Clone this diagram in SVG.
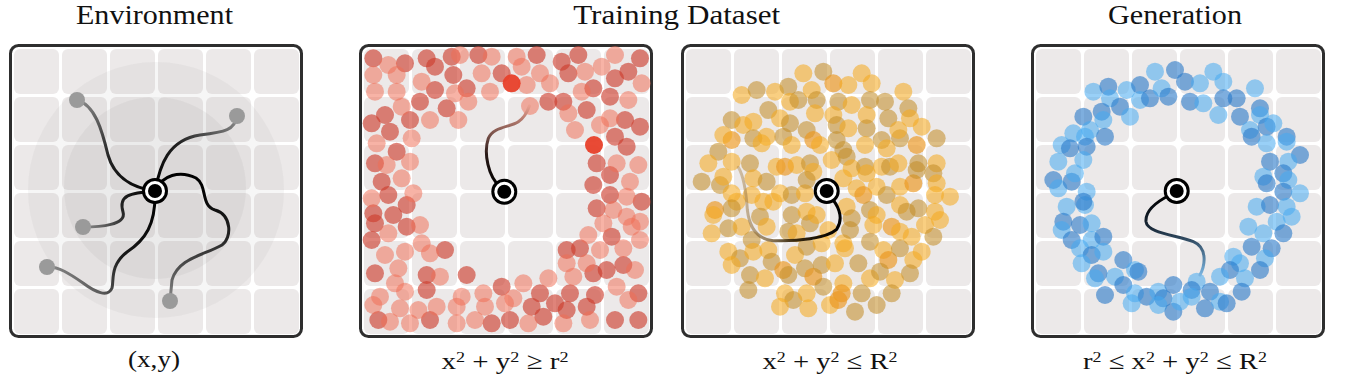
<svg xmlns="http://www.w3.org/2000/svg" xmlns:xlink="http://www.w3.org/1999/xlink" width="1354" height="382" viewBox="0 0 1354 382">
<style>
.title{font-family:"Liberation Serif","Times New Roman",serif;font-size:27px;fill:#111}
.lbl{font-family:"Liberation Serif","Times New Roman",serif;font-size:24px;fill:#111}
.sup{font-size:15px}
.frame{fill:#fff;stroke:#2e2e2e;stroke-width:3}
.cell{fill:#ece9e9}
.r1{fill:#cd3c2d;fill-opacity:.63}
.r2{fill:#f06e55;fill-opacity:.52}
.r3{fill:#e8402a;fill-opacity:.95}
.y1{fill:#f5aa1e;fill-opacity:.56}
.y2{fill:#c38c28;fill-opacity:.56}
.y3{fill:#ec961e;fill-opacity:.66}
.b1{fill:#46aaf0;fill-opacity:.55}
.b2{fill:#2878c8;fill-opacity:.6}
.tr{fill:none;stroke-width:3;stroke-linecap:round}
.trz{fill:none;stroke-width:9;stroke-linecap:round}
.end{fill:#9a9a9a}
</style>
<defs>
<g id="grid">
<rect class="cell" x="5" y="5" width="45" height="45" rx="6"/><rect class="cell" x="53" y="5" width="45" height="45" rx="6"/><rect class="cell" x="101" y="5" width="45" height="45" rx="6"/><rect class="cell" x="149" y="5" width="45" height="45" rx="6"/><rect class="cell" x="197" y="5" width="45" height="45" rx="6"/><rect class="cell" x="245" y="5" width="45" height="45" rx="6"/>
<rect class="cell" x="5" y="53" width="45" height="45" rx="6"/><rect class="cell" x="53" y="53" width="45" height="45" rx="6"/><rect class="cell" x="101" y="53" width="45" height="45" rx="6"/><rect class="cell" x="149" y="53" width="45" height="45" rx="6"/><rect class="cell" x="197" y="53" width="45" height="45" rx="6"/><rect class="cell" x="245" y="53" width="45" height="45" rx="6"/>
<rect class="cell" x="5" y="101" width="45" height="45" rx="6"/><rect class="cell" x="53" y="101" width="45" height="45" rx="6"/><rect class="cell" x="101" y="101" width="45" height="45" rx="6"/><rect class="cell" x="149" y="101" width="45" height="45" rx="6"/><rect class="cell" x="197" y="101" width="45" height="45" rx="6"/><rect class="cell" x="245" y="101" width="45" height="45" rx="6"/>
<rect class="cell" x="5" y="149" width="45" height="45" rx="6"/><rect class="cell" x="53" y="149" width="45" height="45" rx="6"/><rect class="cell" x="101" y="149" width="45" height="45" rx="6"/><rect class="cell" x="149" y="149" width="45" height="45" rx="6"/><rect class="cell" x="197" y="149" width="45" height="45" rx="6"/><rect class="cell" x="245" y="149" width="45" height="45" rx="6"/>
<rect class="cell" x="5" y="197" width="45" height="45" rx="6"/><rect class="cell" x="53" y="197" width="45" height="45" rx="6"/><rect class="cell" x="101" y="197" width="45" height="45" rx="6"/><rect class="cell" x="149" y="197" width="45" height="45" rx="6"/><rect class="cell" x="197" y="197" width="45" height="45" rx="6"/><rect class="cell" x="245" y="197" width="45" height="45" rx="6"/>
<rect class="cell" x="5" y="245" width="45" height="45" rx="6"/><rect class="cell" x="53" y="245" width="45" height="45" rx="6"/><rect class="cell" x="101" y="245" width="45" height="45" rx="6"/><rect class="cell" x="149" y="245" width="45" height="45" rx="6"/><rect class="cell" x="197" y="245" width="45" height="45" rx="6"/><rect class="cell" x="245" y="245" width="45" height="45" rx="6"/>
</g>
<g id="board"><rect class="frame" x="1.5" y="1.5" width="291" height="291" rx="8"/><use xlink:href="#grid"/></g>
<g id="node"><circle r="13" fill="#000"/><circle r="10" fill="#fff"/><circle r="7" fill="#000"/></g>
<linearGradient id="e1" gradientUnits="userSpaceOnUse" x1="155" y1="191" x2="77" y2="100"><stop offset="0" stop-color="#000"/><stop offset=".45" stop-color="#222"/><stop offset="1" stop-color="#8c8c8c"/></linearGradient>
<linearGradient id="e2" gradientUnits="userSpaceOnUse" x1="155" y1="191" x2="237" y2="116"><stop offset="0" stop-color="#000"/><stop offset=".45" stop-color="#222"/><stop offset="1" stop-color="#8c8c8c"/></linearGradient>
<linearGradient id="e3" gradientUnits="userSpaceOnUse" x1="155" y1="191" x2="83" y2="227"><stop offset="0" stop-color="#000"/><stop offset=".45" stop-color="#222"/><stop offset="1" stop-color="#8c8c8c"/></linearGradient>
<linearGradient id="e4" gradientUnits="userSpaceOnUse" x1="155" y1="191" x2="47" y2="267"><stop offset="0" stop-color="#000"/><stop offset=".5" stop-color="#1a1a1a"/><stop offset="1" stop-color="#8c8c8c"/></linearGradient>
<linearGradient id="e5" gradientUnits="userSpaceOnUse" x1="155" y1="191" x2="170" y2="301"><stop offset="0" stop-color="#000"/><stop offset=".5" stop-color="#222"/><stop offset="1" stop-color="#8c8c8c"/></linearGradient>
<linearGradient id="gr" gradientUnits="userSpaceOnUse" x1="0" y1="470" x2="0" y2="228"><stop offset="0" stop-color="#000"/><stop offset=".4" stop-color="#2a1a18"/><stop offset="1" stop-color="#eaa090"/></linearGradient>
<linearGradient id="gy" gradientUnits="userSpaceOnUse" x1="505" y1="0" x2="205" y2="0"><stop offset="0" stop-color="#000"/><stop offset=".45" stop-color="#3a2a10"/><stop offset="1" stop-color="#b08a50" stop-opacity=".45"/></linearGradient>
<linearGradient id="gb" gradientUnits="userSpaceOnUse" x1="0" y1="500" x2="0" y2="735"><stop offset="0" stop-color="#000"/><stop offset=".4" stop-color="#1a2a3a"/><stop offset="1" stop-color="#7ab4e0"/></linearGradient>
</defs>

<text class="title" x="154.5" y="24" text-anchor="middle" textLength="157" lengthAdjust="spacingAndGlyphs">Environment</text>
<text class="title" x="676.7" y="24" text-anchor="middle" textLength="207" lengthAdjust="spacingAndGlyphs">Training Dataset</text>
<text class="title" x="1175" y="24" text-anchor="middle" textLength="134" lengthAdjust="spacingAndGlyphs">Generation</text>

<g id="panel-environment">
<use xlink:href="#board" transform="translate(9,44)"/>
<circle cx="156" cy="190" r="128" fill="#888" fill-opacity=".08"/>
<circle cx="155" cy="188" r="91" fill="#888" fill-opacity=".09"/>
<g id="env-connectors">
<path class="tr" stroke="url(#e1)" d="M155,191 C135,188 115,180 108,155 C102,130 95,105 77,100"/>
<path class="tr" stroke="url(#e2)" d="M155,191 C160,165 168,140 200,135 C225,132 235,130 237,116"/>
<path class="tr" stroke="url(#e3)" d="M155,191 C130,193 118,195 123,212 C127,225 100,227 83,227"/>
<path class="tr" stroke="url(#e4)" d="M155,191 C156,225 145,240 127,252 C110,265 114,280 112,288 C108,298 95,292 83,283 C70,274 58,266 47,267"/>
<path class="tr" stroke="url(#e5)" d="M155,191 C162,175 180,170 196,178 C208,186 200,205 215,210 C232,215 232,238 222,245 C205,255 178,258 172,280 L170,301"/>
</g>
<circle class="end" cx="77" cy="100" r="8"/>
<circle class="end" cx="237" cy="116" r="8"/>
<circle class="end" cx="83" cy="227" r="8"/>
<circle class="end" cx="47" cy="267" r="8"/>
<circle class="end" cx="170" cy="301" r="8"/>
<use xlink:href="#node" transform="translate(155,191)"/>
</g>

<g id="panel-train-outer">
<use xlink:href="#board" transform="translate(359,44)"/>
<g transform="translate(340,30) scale(0.333333)">
<circle class="r1" cx="100" cy="85" r="27"/><circle class="r1" cx="195" cy="100" r="27"/><circle class="r1" cx="260" cy="85" r="27"/><circle class="r1" cx="285" cy="110" r="27"/><circle class="r1" cx="285" cy="180" r="27"/><circle class="r1" cx="335" cy="80" r="27"/><circle class="r1" cx="340" cy="135" r="27"/><circle class="r1" cx="380" cy="175" r="27"/><circle class="r1" cx="415" cy="75" r="27"/><circle class="r1" cx="485" cy="130" r="27"/><circle class="r1" cx="590" cy="75" r="27"/><circle class="r1" cx="665" cy="95" r="27"/><circle class="r1" cx="715" cy="75" r="27"/><circle class="r1" cx="685" cy="130" r="27"/><circle class="r1" cx="760" cy="175" r="27"/><circle class="r1" cx="865" cy="125" r="27"/><circle class="r1" cx="900" cy="85" r="27"/><circle class="r1" cx="825" cy="145" r="27"/><circle class="r1" cx="810" cy="200" r="27"/><circle class="r1" cx="95" cy="280" r="27"/><circle class="r1" cx="135" cy="255" r="27"/><circle class="r1" cx="210" cy="270" r="27"/><circle class="r1" cx="240" cy="215" r="27"/><circle class="r1" cx="320" cy="235" r="27"/><circle class="r1" cx="625" cy="215" r="27"/><circle class="r1" cx="670" cy="215" r="27"/><circle class="r1" cx="740" cy="240" r="27"/><circle class="r1" cx="855" cy="270" r="27"/><circle class="r1" cx="900" cy="290" r="27"/><circle class="r1" cx="825" cy="320" r="27"/><circle class="r1" cx="860" cy="350" r="27"/><circle class="r1" cx="150" cy="305" r="27"/><circle class="r1" cx="170" cy="365" r="27"/><circle class="r1" cx="105" cy="400" r="27"/><circle class="r1" cx="125" cy="455" r="27"/><circle class="r1" cx="145" cy="495" r="27"/><circle class="r1" cx="200" cy="525" r="27"/><circle class="r1" cx="100" cy="550" r="27"/><circle class="r1" cx="105" cy="580" r="27"/><circle class="r1" cx="160" cy="555" r="27"/><circle class="r1" cx="200" cy="590" r="27"/><circle class="r1" cx="95" cy="630" r="27"/><circle class="r1" cx="315" cy="660" r="27"/><circle class="r1" cx="105" cy="730" r="27"/><circle class="r1" cx="260" cy="735" r="27"/><circle class="r1" cx="380" cy="735" r="27"/><circle class="r1" cx="770" cy="400" r="27"/><circle class="r1" cx="760" cy="465" r="27"/><circle class="r1" cx="810" cy="435" r="27"/><circle class="r1" cx="810" cy="495" r="27"/><circle class="r1" cx="905" cy="515" r="27"/><circle class="r1" cx="770" cy="535" r="27"/><circle class="r1" cx="815" cy="620" r="27"/><circle class="r1" cx="720" cy="655" r="27"/><circle class="r1" cx="680" cy="660" r="27"/><circle class="r1" cx="760" cy="730" r="27"/><circle class="r1" cx="800" cy="720" r="27"/><circle class="r1" cx="850" cy="705" r="27"/><circle class="r1" cx="485" cy="770" r="27"/><circle class="r1" cx="260" cy="780" r="27"/><circle class="r1" cx="575" cy="830" r="27"/><circle class="r1" cx="600" cy="790" r="27"/><circle class="r1" cx="645" cy="820" r="27"/><circle class="r1" cx="690" cy="790" r="27"/><circle class="r1" cx="680" cy="840" r="27"/><circle class="r1" cx="740" cy="830" r="27"/><circle class="r1" cx="765" cy="795" r="27"/><circle class="r1" cx="895" cy="790" r="27"/><circle class="r1" cx="115" cy="870" r="27"/><circle class="r1" cx="270" cy="870" r="27"/><circle class="r1" cx="455" cy="880" r="27"/><circle class="r1" cx="510" cy="870" r="27"/><circle class="r1" cx="610" cy="860" r="27"/><circle class="r1" cx="825" cy="870" r="27"/><circle class="r1" cx="895" cy="870" r="27"/>
<circle class="r2" cx="145" cy="105" r="27"/><circle class="r2" cx="100" cy="135" r="27"/><circle class="r2" cx="170" cy="135" r="27"/><circle class="r2" cx="105" cy="185" r="27"/><circle class="r2" cx="170" cy="185" r="27"/><circle class="r2" cx="245" cy="155" r="27"/><circle class="r2" cx="360" cy="75" r="27"/><circle class="r2" cx="345" cy="190" r="27"/><circle class="r2" cx="455" cy="80" r="27"/><circle class="r2" cx="425" cy="130" r="27"/><circle class="r2" cx="450" cy="185" r="27"/><circle class="r2" cx="530" cy="80" r="27"/><circle class="r2" cx="545" cy="110" r="27"/><circle class="r2" cx="600" cy="130" r="27"/><circle class="r2" cx="560" cy="165" r="27"/><circle class="r2" cx="630" cy="160" r="27"/><circle class="r2" cx="735" cy="125" r="27"/><circle class="r2" cx="725" cy="185" r="27"/><circle class="r2" cx="785" cy="110" r="27"/><circle class="r2" cx="825" cy="75" r="27"/><circle class="r2" cx="905" cy="160" r="27"/><circle class="r2" cx="865" cy="210" r="27"/><circle class="r2" cx="185" cy="230" r="27"/><circle class="r2" cx="270" cy="270" r="27"/><circle class="r2" cx="355" cy="270" r="27"/><circle class="r2" cx="385" cy="215" r="27"/><circle class="r2" cx="570" cy="228" r="27"/><circle class="r2" cx="685" cy="250" r="27"/><circle class="r2" cx="705" cy="300" r="27"/><circle class="r2" cx="780" cy="285" r="27"/><circle class="r2" cx="810" cy="265" r="27"/><circle class="r2" cx="110" cy="340" r="27"/><circle class="r2" cx="215" cy="325" r="27"/><circle class="r2" cx="140" cy="405" r="27"/><circle class="r2" cx="210" cy="395" r="27"/><circle class="r2" cx="185" cy="445" r="27"/><circle class="r2" cx="95" cy="505" r="27"/><circle class="r2" cx="220" cy="490" r="27"/><circle class="r2" cx="240" cy="585" r="27"/><circle class="r2" cx="145" cy="610" r="27"/><circle class="r2" cx="135" cy="675" r="27"/><circle class="r2" cx="195" cy="665" r="27"/><circle class="r2" cx="245" cy="640" r="27"/><circle class="r2" cx="270" cy="670" r="27"/><circle class="r2" cx="175" cy="715" r="27"/><circle class="r2" cx="165" cy="760" r="27"/><circle class="r2" cx="300" cy="740" r="27"/><circle class="r2" cx="830" cy="400" r="27"/><circle class="r2" cx="895" cy="405" r="27"/><circle class="r2" cx="870" cy="455" r="27"/><circle class="r2" cx="860" cy="500" r="27"/><circle class="r2" cx="820" cy="540" r="27"/><circle class="r2" cx="900" cy="575" r="27"/><circle class="r2" cx="860" cy="560" r="27"/><circle class="r2" cx="790" cy="580" r="27"/><circle class="r2" cx="745" cy="615" r="27"/><circle class="r2" cx="875" cy="590" r="27"/><circle class="r2" cx="900" cy="630" r="27"/><circle class="r2" cx="850" cy="655" r="27"/><circle class="r2" cx="780" cy="660" r="27"/><circle class="r2" cx="680" cy="700" r="27"/><circle class="r2" cx="740" cy="700" r="27"/><circle class="r2" cx="885" cy="720" r="27"/><circle class="r2" cx="700" cy="740" r="27"/><circle class="r2" cx="550" cy="760" r="27"/><circle class="r2" cx="625" cy="745" r="27"/><circle class="r2" cx="100" cy="825" r="27"/><circle class="r2" cx="120" cy="800" r="27"/><circle class="r2" cx="195" cy="785" r="27"/><circle class="r2" cx="180" cy="835" r="27"/><circle class="r2" cx="235" cy="840" r="27"/><circle class="r2" cx="290" cy="830" r="27"/><circle class="r2" cx="365" cy="800" r="27"/><circle class="r2" cx="350" cy="830" r="27"/><circle class="r2" cx="430" cy="790" r="27"/><circle class="r2" cx="435" cy="830" r="27"/><circle class="r2" cx="520" cy="805" r="27"/><circle class="r2" cx="495" cy="820" r="27"/><circle class="r2" cx="830" cy="770" r="27"/><circle class="r2" cx="865" cy="810" r="27"/><circle class="r2" cx="150" cy="875" r="27"/><circle class="r2" cx="210" cy="880" r="27"/><circle class="r2" cx="350" cy="880" r="27"/><circle class="r2" cx="405" cy="870" r="27"/><circle class="r2" cx="565" cy="880" r="27"/><circle class="r2" cx="670" cy="880" r="27"/><circle class="r2" cx="750" cy="870" r="27"/>
<circle class="r3" cx="515" cy="160" r="27"/><circle class="r3" cx="762" cy="345" r="27"/>
<path class="trz" stroke="url(#gr)" d="M480,470 C445,440 430,370 445,325 C460,290 510,292 535,275 C555,262 562,245 568,228"/>
</g>
<use xlink:href="#node" transform="translate(504.3,191.7)"/>
</g>

<g id="panel-train-inner">
<use xlink:href="#board" transform="translate(681,44)"/>
<g transform="translate(670,30) scale(0.333333)">
<circle class="y1" cx="400" cy="130" r="27"/><circle class="y2" cx="460" cy="125" r="27"/><circle class="y3" cx="490" cy="160" r="27"/><circle class="y1" cx="535" cy="165" r="27"/><circle class="y1" cx="575" cy="130" r="27"/><circle class="y1" cx="605" cy="160" r="27"/><circle class="y1" cx="700" cy="185" r="27"/><circle class="y1" cx="215" cy="195" r="27"/><circle class="y2" cx="260" cy="180" r="27"/><circle class="y1" cx="315" cy="185" r="27"/><circle class="y2" cx="355" cy="170" r="27"/><circle class="y1" cx="360" cy="215" r="27"/><circle class="y2" cx="385" cy="210" r="27"/><circle class="y1" cx="425" cy="180" r="27"/><circle class="y2" cx="440" cy="210" r="27"/><circle class="y2" cx="505" cy="215" r="27"/><circle class="y1" cx="545" cy="225" r="27"/><circle class="y2" cx="600" cy="210" r="27"/><circle class="y2" cx="645" cy="215" r="27"/><circle class="y2" cx="295" cy="240" r="27"/><circle class="y1" cx="330" cy="265" r="27"/><circle class="y2" cx="360" cy="280" r="27"/><circle class="y1" cx="435" cy="250" r="27"/><circle class="y1" cx="490" cy="255" r="27"/><circle class="y2" cx="500" cy="285" r="27"/><circle class="y1" cx="535" cy="295" r="27"/><circle class="y1" cx="590" cy="255" r="27"/><circle class="y2" cx="590" cy="295" r="27"/><circle class="y2" cx="655" cy="265" r="27"/><circle class="y2" cx="715" cy="235" r="27"/><circle class="y1" cx="720" cy="265" r="27"/><circle class="y1" cx="755" cy="290" r="27"/><circle class="y2" cx="185" cy="270" r="27"/><circle class="y1" cx="220" cy="285" r="27"/><circle class="y1" cx="250" cy="275" r="27"/><circle class="y3" cx="185" cy="330" r="27"/><circle class="y1" cx="160" cy="315" r="27"/><circle class="y2" cx="250" cy="325" r="27"/><circle class="y1" cx="275" cy="340" r="27"/><circle class="y1" cx="290" cy="320" r="27"/><circle class="y2" cx="340" cy="320" r="27"/><circle class="y1" cx="365" cy="345" r="27"/><circle class="y2" cx="410" cy="300" r="27"/><circle class="y3" cx="430" cy="330" r="27"/><circle class="y1" cx="450" cy="345" r="27"/><circle class="y2" cx="500" cy="330" r="27"/><circle class="y2" cx="520" cy="360" r="27"/><circle class="y1" cx="585" cy="345" r="27"/><circle class="y2" cx="635" cy="330" r="27"/><circle class="y1" cx="650" cy="355" r="27"/><circle class="y2" cx="690" cy="325" r="27"/><circle class="y1" cx="685" cy="300" r="27"/><circle class="y3" cx="740" cy="345" r="27"/><circle class="y2" cx="800" cy="325" r="27"/><circle class="y2" cx="145" cy="365" r="27"/><circle class="y1" cx="115" cy="400" r="27"/><circle class="y1" cx="185" cy="395" r="27"/><circle class="y2" cx="240" cy="400" r="27"/><circle class="y1" cx="320" cy="410" r="27"/><circle class="y3" cx="345" cy="410" r="27"/><circle class="y1" cx="380" cy="405" r="27"/><circle class="y2" cx="420" cy="400" r="27"/><circle class="y1" cx="430" cy="425" r="27"/><circle class="y1" cx="485" cy="390" r="27"/><circle class="y2" cx="530" cy="380" r="27"/><circle class="y1" cx="545" cy="415" r="27"/><circle class="y2" cx="585" cy="410" r="27"/><circle class="y1" cx="590" cy="430" r="27"/><circle class="y1" cx="635" cy="410" r="27"/><circle class="y2" cx="660" cy="410" r="27"/><circle class="y1" cx="685" cy="400" r="27"/><circle class="y2" cx="745" cy="400" r="27"/><circle class="y1" cx="800" cy="400" r="27"/><circle class="y2" cx="95" cy="455" r="27"/><circle class="y2" cx="150" cy="465" r="27"/><circle class="y1" cx="160" cy="440" r="27"/><circle class="y1" cx="250" cy="445" r="27"/><circle class="y2" cx="290" cy="455" r="27"/><circle class="y1" cx="330" cy="490" r="27"/><circle class="y2" cx="365" cy="495" r="27"/><circle class="y1" cx="405" cy="490" r="27"/><circle class="y2" cx="410" cy="450" r="27"/><circle class="y1" cx="520" cy="445" r="27"/><circle class="y1" cx="560" cy="475" r="27"/><circle class="y3" cx="580" cy="495" r="27"/><circle class="y1" cx="620" cy="470" r="27"/><circle class="y2" cx="650" cy="495" r="27"/><circle class="y1" cx="690" cy="470" r="27"/><circle class="y3" cx="730" cy="460" r="27"/><circle class="y2" cx="740" cy="420" r="27"/><circle class="y2" cx="790" cy="430" r="27"/><circle class="y1" cx="800" cy="460" r="27"/><circle class="y1" cx="840" cy="500" r="27"/><circle class="y1" cx="795" cy="495" r="27"/><circle class="y1" cx="185" cy="490" r="27"/><circle class="y1" cx="200" cy="515" r="27"/><circle class="y3" cx="135" cy="540" r="27"/><circle class="y2" cx="185" cy="535" r="27"/><circle class="y1" cx="245" cy="495" r="27"/><circle class="y1" cx="280" cy="515" r="27"/><circle class="y1" cx="310" cy="515" r="27"/><circle class="y2" cx="365" cy="555" r="27"/><circle class="y1" cx="410" cy="545" r="27"/><circle class="y2" cx="420" cy="580" r="27"/><circle class="y1" cx="440" cy="555" r="27"/><circle class="y1" cx="530" cy="530" r="27"/><circle class="y2" cx="545" cy="565" r="27"/><circle class="y2" cx="600" cy="540" r="27"/><circle class="y1" cx="620" cy="555" r="27"/><circle class="y1" cx="690" cy="525" r="27"/><circle class="y2" cx="710" cy="545" r="27"/><circle class="y2" cx="745" cy="535" r="27"/><circle class="y1" cx="795" cy="545" r="27"/><circle class="y1" cx="810" cy="570" r="27"/><circle class="y1" cx="765" cy="585" r="27"/><circle class="y2" cx="790" cy="620" r="27"/><circle class="y1" cx="130" cy="555" r="27"/><circle class="y1" cx="125" cy="610" r="27"/><circle class="y2" cx="175" cy="595" r="27"/><circle class="y1" cx="215" cy="590" r="27"/><circle class="y2" cx="270" cy="560" r="27"/><circle class="y1" cx="290" cy="590" r="27"/><circle class="y2" cx="355" cy="605" r="27"/><circle class="y1" cx="380" cy="610" r="27"/><circle class="y1" cx="475" cy="600" r="27"/><circle class="y1" cx="520" cy="640" r="27"/><circle class="y2" cx="540" cy="600" r="27"/><circle class="y1" cx="610" cy="585" r="27"/><circle class="y3" cx="665" cy="590" r="27"/><circle class="y1" cx="690" cy="605" r="27"/><circle class="y1" cx="725" cy="620" r="27"/><circle class="y2" cx="245" cy="630" r="27"/><circle class="y1" cx="175" cy="665" r="27"/><circle class="y2" cx="210" cy="685" r="27"/><circle class="y1" cx="250" cy="665" r="27"/><circle class="y1" cx="295" cy="660" r="27"/><circle class="y2" cx="305" cy="695" r="27"/><circle class="y1" cx="185" cy="705" r="27"/><circle class="y1" cx="375" cy="675" r="27"/><circle class="y2" cx="410" cy="650" r="27"/><circle class="y1" cx="455" cy="640" r="27"/><circle class="y1" cx="525" cy="655" r="27"/><circle class="y2" cx="565" cy="700" r="27"/><circle class="y2" cx="600" cy="635" r="27"/><circle class="y1" cx="640" cy="660" r="27"/><circle class="y3" cx="655" cy="690" r="27"/><circle class="y2" cx="690" cy="655" r="27"/><circle class="y1" cx="755" cy="665" r="27"/><circle class="y1" cx="730" cy="690" r="27"/><circle class="y2" cx="240" cy="735" r="27"/><circle class="y1" cx="285" cy="745" r="27"/><circle class="y3" cx="340" cy="720" r="27"/><circle class="y2" cx="355" cy="735" r="27"/><circle class="y2" cx="405" cy="715" r="27"/><circle class="y3" cx="430" cy="740" r="27"/><circle class="y2" cx="455" cy="705" r="27"/><circle class="y1" cx="495" cy="700" r="27"/><circle class="y1" cx="600" cy="745" r="27"/><circle class="y2" cx="630" cy="725" r="27"/><circle class="y1" cx="675" cy="750" r="27"/><circle class="y2" cx="720" cy="730" r="27"/><circle class="y2" cx="235" cy="780" r="27"/><circle class="y1" cx="345" cy="790" r="27"/><circle class="y2" cx="370" cy="810" r="27"/><circle class="y1" cx="410" cy="790" r="27"/><circle class="y2" cx="460" cy="770" r="27"/><circle class="y1" cx="520" cy="760" r="27"/><circle class="y3" cx="515" cy="790" r="27"/><circle class="y2" cx="575" cy="790" r="27"/><circle class="y2" cx="665" cy="790" r="27"/><circle class="y1" cx="330" cy="830" r="27"/><circle class="y1" cx="415" cy="835" r="27"/><circle class="y1" cx="480" cy="825" r="27"/><circle class="y3" cx="505" cy="810" r="27"/><circle class="y2" cx="555" cy="845" r="27"/><circle class="y2" cx="620" cy="825" r="27"/>
<path class="trz" stroke="url(#gy)" d="M480,500 C500,520 525,560 500,598 C470,625 380,635 310,632 C260,628 238,590 232,540 C228,480 222,440 205,412"/>
</g>
<use xlink:href="#node" transform="translate(826.7,191)"/>
</g>

<g id="panel-generation">
<use xlink:href="#board" transform="translate(1031,44)"/>
<g transform="translate(1020,30) scale(0.333333)">
<circle class="b1" cx="405" cy="125" r="27"/><circle class="b2" cx="465" cy="120" r="27"/><circle class="b2" cx="495" cy="155" r="27"/><circle class="b1" cx="540" cy="160" r="27"/><circle class="b1" cx="580" cy="125" r="27"/><circle class="b1" cx="610" cy="155" r="27"/><circle class="b1" cx="705" cy="175" r="27"/><circle class="b1" cx="220" cy="185" r="27"/><circle class="b2" cx="265" cy="170" r="27"/><circle class="b1" cx="270" cy="205" r="27"/><circle class="b1" cx="320" cy="180" r="27"/><circle class="b2" cx="360" cy="165" r="27"/><circle class="b1" cx="360" cy="210" r="27"/><circle class="b2" cx="390" cy="205" r="27"/><circle class="b1" cx="425" cy="175" r="27"/><circle class="b2" cx="445" cy="200" r="27"/><circle class="b2" cx="510" cy="215" r="27"/><circle class="b1" cx="550" cy="220" r="27"/><circle class="b1" cx="595" cy="255" r="27"/><circle class="b2" cx="610" cy="205" r="27"/><circle class="b2" cx="650" cy="205" r="27"/><circle class="b2" cx="300" cy="230" r="27"/><circle class="b1" cx="330" cy="260" r="27"/><circle class="b2" cx="245" cy="245" r="27"/><circle class="b1" cx="250" cy="270" r="27"/><circle class="b2" cx="190" cy="260" r="27"/><circle class="b1" cx="210" cy="300" r="27"/><circle class="b2" cx="660" cy="260" r="27"/><circle class="b2" cx="720" cy="235" r="27"/><circle class="b1" cx="720" cy="255" r="27"/><circle class="b1" cx="690" cy="300" r="27"/><circle class="b2" cx="740" cy="290" r="27"/><circle class="b1" cx="760" cy="280" r="27"/><circle class="b2" cx="255" cy="320" r="27"/><circle class="b1" cx="195" cy="320" r="27"/><circle class="b2" cx="200" cy="350" r="27"/><circle class="b1" cx="160" cy="310" r="27"/><circle class="b1" cx="125" cy="345" r="27"/><circle class="b2" cx="150" cy="355" r="27"/><circle class="b1" cx="190" cy="390" r="27"/><circle class="b1" cx="115" cy="395" r="27"/><circle class="b2" cx="695" cy="320" r="27"/><circle class="b1" cx="740" cy="340" r="27"/><circle class="b2" cx="800" cy="320" r="27"/><circle class="b1" cx="800" cy="335" r="27"/><circle class="b2" cx="840" cy="375" r="27"/><circle class="b2" cx="750" cy="395" r="27"/><circle class="b1" cx="805" cy="395" r="27"/><circle class="b1" cx="730" cy="440" r="27"/><circle class="b2" cx="740" cy="460" r="27"/><circle class="b2" cx="790" cy="430" r="27"/><circle class="b1" cx="805" cy="450" r="27"/><circle class="b2" cx="100" cy="450" r="27"/><circle class="b1" cx="115" cy="475" r="27"/><circle class="b2" cx="155" cy="455" r="27"/><circle class="b1" cx="165" cy="430" r="27"/><circle class="b1" cx="200" cy="485" r="27"/><circle class="b1" cx="195" cy="525" r="27"/><circle class="b2" cx="190" cy="515" r="27"/><circle class="b1" cx="140" cy="530" r="27"/><circle class="b2" cx="790" cy="485" r="27"/><circle class="b1" cx="840" cy="490" r="27"/><circle class="b1" cx="710" cy="530" r="27"/><circle class="b2" cx="750" cy="525" r="27"/><circle class="b1" cx="800" cy="530" r="27"/><circle class="b1" cx="815" cy="560" r="27"/><circle class="b2" cx="130" cy="575" r="27"/><circle class="b1" cx="125" cy="600" r="27"/><circle class="b2" cx="180" cy="585" r="27"/><circle class="b1" cx="215" cy="580" r="27"/><circle class="b1" cx="770" cy="575" r="27"/><circle class="b1" cx="685" cy="590" r="27"/><circle class="b1" cx="730" cy="610" r="27"/><circle class="b2" cx="790" cy="610" r="27"/><circle class="b2" cx="155" cy="630" r="27"/><circle class="b1" cx="215" cy="630" r="27"/><circle class="b2" cx="250" cy="620" r="27"/><circle class="b1" cx="180" cy="655" r="27"/><circle class="b2" cx="215" cy="675" r="27"/><circle class="b1" cx="250" cy="665" r="27"/><circle class="b1" cx="185" cy="700" r="27"/><circle class="b2" cx="695" cy="650" r="27"/><circle class="b2" cx="755" cy="655" r="27"/><circle class="b1" cx="735" cy="685" r="27"/><circle class="b1" cx="640" cy="680" r="27"/><circle class="b1" cx="660" cy="700" r="27"/><circle class="b2" cx="630" cy="720" r="27"/><circle class="b2" cx="720" cy="720" r="27"/><circle class="b1" cx="675" cy="745" r="27"/><circle class="b1" cx="600" cy="740" r="27"/><circle class="b2" cx="310" cy="690" r="27"/><circle class="b1" cx="345" cy="720" r="27"/><circle class="b2" cx="355" cy="725" r="27"/><circle class="b1" cx="285" cy="740" r="27"/><circle class="b2" cx="235" cy="730" r="27"/><circle class="b1" cx="225" cy="745" r="27"/><circle class="b2" cx="310" cy="765" r="27"/><circle class="b2" cx="255" cy="795" r="27"/><circle class="b1" cx="345" cy="790" r="27"/><circle class="b2" cx="380" cy="800" r="27"/><circle class="b1" cx="415" cy="785" r="27"/><circle class="b2" cx="430" cy="805" r="27"/><circle class="b2" cx="460" cy="765" r="27"/><circle class="b1" cx="530" cy="755" r="27"/><circle class="b2" cx="515" cy="780" r="27"/><circle class="b2" cx="570" cy="785" r="27"/><circle class="b2" cx="665" cy="785" r="27"/><circle class="b1" cx="335" cy="820" r="27"/><circle class="b1" cx="415" cy="825" r="27"/><circle class="b2" cx="460" cy="845" r="27"/><circle class="b1" cx="480" cy="815" r="27"/><circle class="b1" cx="515" cy="800" r="27"/><circle class="b2" cx="555" cy="835" r="27"/><circle class="b1" cx="600" cy="815" r="27"/><circle class="b2" cx="620" cy="820" r="27"/>
<path class="trz" stroke="url(#gb)" d="M450,495 C410,515 375,540 378,575 C382,610 470,615 520,635 C560,652 558,700 540,735"/>
</g>
<use xlink:href="#node" transform="translate(1176.7,191)"/>
</g>

<text class="lbl" x="154" y="367" text-anchor="middle" textLength="52" lengthAdjust="spacingAndGlyphs">(x,y)</text>
<text class="lbl" x="505" y="369" text-anchor="middle" textLength="127" lengthAdjust="spacingAndGlyphs">x<tspan class="sup" dy="-7">2</tspan><tspan dy="7"> + y</tspan><tspan class="sup" dy="-7">2</tspan><tspan dy="7"> ≥ r</tspan><tspan class="sup" dy="-7">2</tspan></text>
<text class="lbl" x="830" y="369" text-anchor="middle" textLength="135" lengthAdjust="spacingAndGlyphs">x<tspan class="sup" dy="-7">2</tspan><tspan dy="7"> + y</tspan><tspan class="sup" dy="-7">2</tspan><tspan dy="7"> ≤ R</tspan><tspan class="sup" dy="-7">2</tspan></text>
<text class="lbl" x="1175" y="369" text-anchor="middle" textLength="184" lengthAdjust="spacingAndGlyphs">r<tspan class="sup" dy="-7">2</tspan><tspan dy="7"> ≤ x</tspan><tspan class="sup" dy="-7">2</tspan><tspan dy="7"> + y</tspan><tspan class="sup" dy="-7">2</tspan><tspan dy="7"> ≤ R</tspan><tspan class="sup" dy="-7">2</tspan></text>
</svg>
